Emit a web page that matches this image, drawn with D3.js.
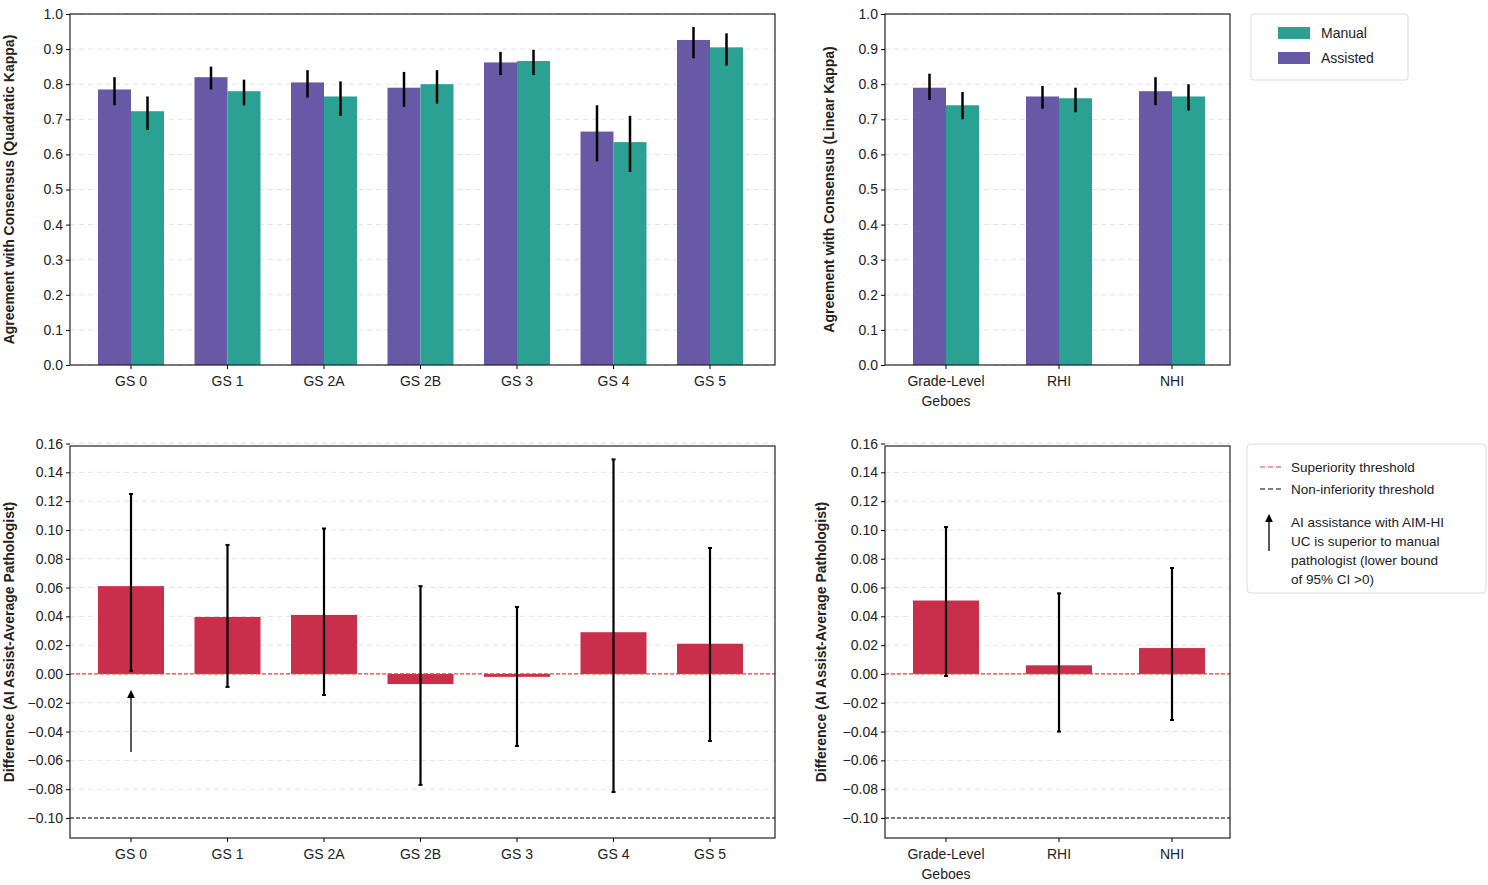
<!DOCTYPE html>
<html><head><meta charset="utf-8">
<script src="https://cdn.jsdelivr.net/npm/d3@7/dist/d3.min.js"></script>
<style>body{margin:0;background:#fff;font-family:Arial,"Liberation Sans",sans-serif}</style>
</head><body><svg id="c" width="1488" height="885"></svg>
<script>
const gsCats=["GS 0","GS 1","GS 2A","GS 2B","GS 3","GS 4","GS 5"];
const idxCats=["Grade-Level\nGeboes","RHI","NHI"];
const gsAssisted=[0.785,0.82,0.805,0.79,0.862,0.665,0.926];
const gsAssistedLo=[0.74,0.785,0.762,0.735,0.826,0.58,0.874];
const gsAssistedHi=[0.82,0.85,0.84,0.835,0.892,0.74,0.963];
const gsManual=[0.723,0.78,0.765,0.80,0.866,0.635,0.905];
const gsManualLo=[0.67,0.74,0.71,0.745,0.826,0.55,0.853];
const gsManualHi=[0.765,0.813,0.808,0.84,0.898,0.71,0.945];
const idxAssisted=[0.79,0.765,0.78];
const idxAssistedLo=[0.755,0.73,0.74];
const idxAssistedHi=[0.83,0.795,0.82];
const idxManual=[0.74,0.76,0.765];
const idxManualLo=[0.70,0.72,0.725];
const idxManualHi=[0.778,0.79,0.80];
const gsDiff=[0.061,0.0396,0.041,-0.007,-0.002,0.029,0.021];
const gsDiffLo=[0.002,-0.009,-0.0146,-0.077,-0.05,-0.082,-0.0465];
const gsDiffHi=[0.125,0.0896,0.101,0.061,0.0465,0.149,0.0875];
const idxDiff=[0.051,0.006,0.018];
const idxDiffLo=[-0.0014,-0.04,-0.032];
const idxDiffHi=[0.102,0.056,0.0736];
const kappaTicks=d3.range(0,1.01,0.1);
const diffTicks=d3.range(-0.10,0.161,0.02);

const svg=d3.select("#c");
const PURPLE="#6859a6",GREEN="#2aa193",RED="#c92f4b";

function panel(o){
  const g=svg.append("g");
  const y=d3.scaleLinear().domain(o.ydom).range([o.y1,o.y0]);
  const x=d3.scaleBand().domain(o.cats).range(o.xr);
  // grid
  g.selectAll(".gr").data(o.ticks).enter().append("line")
   .attr("x1",o.x0).attr("x2",o.x1).attr("y1",d=>y(d)).attr("y2",d=>y(d))
   .attr("stroke","#e3e3e3").attr("stroke-dasharray","5,4");
  const bars=g.append("g");
  if(o.series){
    o.series.forEach((s,si)=>{
      s.v.forEach((v,i)=>{
        const cx=x(o.cats[i])+x.bandwidth()/2;
        const bx=si===0?cx-o.bw:cx;
        bars.append("rect").attr("x",bx).attr("width",o.bw)
          .attr("y",y(v)).attr("height",y(0)-y(v)).attr("fill",s.c);
        bars.append("line").attr("x1",bx+o.bw/2).attr("x2",bx+o.bw/2)
          .attr("y1",y(s.lo[i])).attr("y2",y(s.hi[i])).attr("stroke","#000").attr("stroke-width",2.5);
      });
    });
  } else {
    o.diff.forEach((v,i)=>{
      const cx=x(o.cats[i])+x.bandwidth()/2;
      bars.append("rect").attr("x",cx-o.bw).attr("width",o.bw*2)
        .attr("y",y(Math.max(v,0))).attr("height",Math.abs(y(v)-y(0))).attr("fill",RED);
    });
    g.append("line").attr("x1",o.x0).attr("x2",o.x1).attr("y1",y(0)).attr("y2",y(0))
      .attr("stroke","#e8413c").attr("stroke-width",1.2).attr("stroke-dasharray","4,2");
    g.append("line").attr("x1",o.x0).attr("x2",o.x1).attr("y1",y(-0.1)).attr("y2",y(-0.1))
      .attr("stroke","#000").attr("stroke-width",1.2).attr("stroke-dasharray","4,2");
    o.diff.forEach((v,i)=>{
      const cx=x(o.cats[i])+x.bandwidth()/2;
      g.append("line").attr("x1",cx).attr("x2",cx).attr("y1",y(o.lo[i])).attr("y2",y(o.hi[i]))
        .attr("stroke","#000").attr("stroke-width",2.2);
      [o.lo[i],o.hi[i]].forEach(e=>g.append("line").attr("x1",cx-2).attr("x2",cx+2)
        .attr("y1",y(e)).attr("y2",y(e)).attr("stroke","#000").attr("stroke-width",2));
    });
  }
  g.append("rect").attr("x",o.x0).attr("y",o.y0).attr("width",o.x1-o.x0).attr("height",o.y1-o.y0)
    .attr("fill","none").attr("stroke","#222").attr("stroke-width",1.2);
  // y axis
  const ya=g.append("g").attr("transform",`translate(${o.x0},0)`)
    .call(d3.axisLeft(y).tickValues(o.ticks).tickFormat(o.fmt).tickSize(4));
  ya.select(".domain").remove();
  ya.selectAll("text").attr("font-size",14).attr("fill","#222").attr("font-family","Arial,Liberation Sans");
  // x axis
  const xa=g.append("g").attr("transform",`translate(0,${o.y1})`)
    .call(d3.axisBottom(x).tickSize(4).tickFormat(""));
  xa.select(".domain").remove();
  o.cats.forEach(c=>{
    const t=g.append("text").attr("x",x(c)+x.bandwidth()/2).attr("y",o.y1+21)
      .attr("text-anchor","middle").attr("font-size",14).attr("fill","#222");
    c.split("\n").forEach((l,k)=>t.append("tspan").attr("x",x(c)+x.bandwidth()/2).attr("dy",k?20:0).text(l));
  });
  g.append("text").attr("transform",`translate(${o.lx},${(o.y0+o.y1)/2}) rotate(-90)`)
    .attr("text-anchor","middle").attr("font-size",14).attr("font-weight","bold").attr("fill","#222").text(o.label);
  return {x,y};
}
const f1=d3.format(".1f"),f2=d3.format(".2f");
panel({x0:70,x1:775,y0:14,y1:365,ydom:[0,1],ticks:kappaTicks,fmt:f1,cats:gsCats,xr:[82.75,758.25],bw:33,
  series:[{v:gsAssisted,lo:gsAssistedLo,hi:gsAssistedHi,c:PURPLE},{v:gsManual,lo:gsManualLo,hi:gsManualHi,c:GREEN}],
  label:"Agreement with Consensus (Quadratic Kappa)",lx:14});
panel({x0:885,x1:1230,y0:14,y1:365,ydom:[0,1],ticks:kappaTicks,fmt:f1,cats:idxCats,xr:[889.5,1228.5],bw:33,
  series:[{v:idxAssisted,lo:idxAssistedLo,hi:idxAssistedHi,c:PURPLE},{v:idxManual,lo:idxManualLo,hi:idxManualHi,c:GREEN}],
  label:"Agreement with Consensus (Linear Kappa)",lx:834});
const pl=panel({x0:70,x1:775,y0:446,y1:838,ydom:[-0.1139,0.1583],ticks:diffTicks,fmt:f2,cats:gsCats,xr:[82.75,758.25],bw:33,
  diff:gsDiff,lo:gsDiffLo,hi:gsDiffHi,label:"Difference (AI Assist-Average Pathologist)",lx:14});
panel({x0:885,x1:1230,y0:446,y1:838,ydom:[-0.1139,0.1583],ticks:diffTicks,fmt:f2,cats:idxCats,xr:[889.5,1228.5],bw:33,
  diff:idxDiff,lo:idxDiffLo,hi:idxDiffHi,label:"Difference (AI Assist-Average Pathologist)",lx:826});
// arrow
svg.append("defs").append("marker").attr("id","ah").attr("viewBox","0 0 10 10").attr("refX",5).attr("refY",5)
  .attr("markerWidth",6).attr("markerHeight",7).attr("orient","auto")
  .append("path").attr("d","M0,0L10,5L0,10z").attr("fill","#000");
const ax=pl.x("GS 0")+pl.x.bandwidth()/2;
svg.append("line").attr("x1",ax).attr("x2",ax).attr("y1",752).attr("y2",694).attr("stroke","#000").attr("stroke-width",1.3).attr("marker-end","url(#ah)");
// legend 1
const l1=svg.append("g");
l1.append("rect").attr("x",1251).attr("y",14).attr("width",157).attr("height",66).attr("rx",3).attr("fill","#fff").attr("stroke","#ddd");
[["Manual",GREEN,33],["Assisted",PURPLE,58]].forEach(([t,c,yy])=>{
  l1.append("rect").attr("x",1278).attr("y",yy-6).attr("width",32).attr("height",12).attr("fill",c);
  l1.append("text").attr("x",1321).attr("y",yy+5).attr("font-size",14).attr("fill","#222").text(t);
});
// legend 2
const l2=svg.append("g");
l2.append("rect").attr("x",1247).attr("y",444).attr("width",239).attr("height",149).attr("rx",4).attr("fill","#fff").attr("stroke","#ddd");
[["Superiority threshold","#e8413c",467],["Non-inferiority threshold","#000",489]].forEach(([t,c,yy])=>{
  l2.append("line").attr("x1",1260).attr("x2",1284).attr("y1",yy).attr("y2",yy).attr("stroke",c).attr("stroke-dasharray","5,3").attr("stroke-width",1.2);
  l2.append("text").attr("x",1291).attr("y",yy+5).attr("font-size",13.5).attr("fill","#222").text(t);
});
l2.append("line").attr("x1",1269).attr("x2",1269).attr("y1",551).attr("y2",518).attr("stroke","#000").attr("stroke-width",1.3).attr("marker-end","url(#ah)");
["AI assistance with AIM-HI","UC is superior to manual","pathologist (lower bound","of 95% CI >0)"].forEach((t,i)=>
  l2.append("text").attr("x",1291).attr("y",527+i*19).attr("font-size",13.5).attr("fill","#222").text(t));
</script></body></html>
